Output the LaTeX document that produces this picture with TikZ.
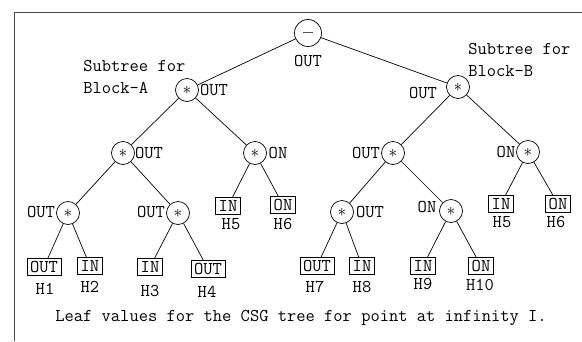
\documentclass[tikz,border=0pt]{standalone}
\begin{document}
\begin{tikzpicture}[x=1pt,y=-1pt,line width=0.7pt,
  font=\ttfamily\fontsize{18}{22}\selectfont,
  op/.style={draw,circle,inner sep=0pt,minimum size=23pt},
  leaf/.style={draw,rectangle,inner xsep=3pt,inner ysep=1pt,minimum height=17pt},
  val/.style={inner sep=0pt}]
  \useasboundingbox (0,0) rectangle (582,341);
  \draw[black!70] (582,12) -- (14,12) -- (14,341);

  \node (R) [op,minimum size=27pt] at (308,33) {$-$};
  \node (Rv) [val] at (308,61) {OUT};

  \node (A) [op] at (187,90) {$\ast$};
  \node (Av) [val] at (214,90) {OUT};
  \node (Anote) [val,align=left,anchor=west] at (83,77) {Subtree for\\Block-A};
  \node (B) [op] at (458,87) {$\ast$};
  \node (Bv) [val] at (423,93) {OUT};
  \node (Bnote) [val,align=left,anchor=west] at (468,60) {Subtree for\\Block-B};

  \node (A1) [op] at (123,153) {$\ast$};
  \node (A1v) [val] at (149,153) {OUT};
  \node (A2) [op] at (255,153) {$\ast$};
  \node (A2v) [val] at (278,153) {ON};
  \node (B1) [op] at (393,153) {$\ast$};
  \node (B1v) [val] at (366,153) {OUT};
  \node (B2) [op] at (528,152) {$\ast$};
  \node (B2v) [val] at (506,152) {ON};

  \node (A1a) [op] at (68,213) {$\ast$};
  \node (A1av) [val] at (41,212) {OUT};
  \node (A1b) [op] at (178,213) {$\ast$};
  \node (A1bv) [val] at (151,212) {OUT};
  \node (B1a) [op] at (342,212) {$\ast$};
  \node (B1av) [val] at (370,212) {OUT};
  \node (B1b) [op] at (451,211) {$\ast$};
  \node (B1bv) [val] at (427,207) {ON};

  \node (H1) [leaf] at (44,267) {OUT};
  \node (H1t) [val] at (45,289) {H1};
  \node (H2) [leaf] at (90,266) {IN};
  \node (H2t) [val] at (90,287) {H2};
  \node (H3) [leaf] at (150,267) {IN};
  \node (H3t) [val] at (150,291) {H3};
  \node (H4) [leaf] at (208,269) {OUT};
  \node (H4t) [val] at (207,292) {H4};
  \node (H5) [leaf] at (228,206) {IN};
  \node (H5t) [val] at (231,224) {H5};
  \node (H6) [leaf] at (283,205) {ON};
  \node (H6t) [val] at (283,224) {H6};
  \node (H7) [leaf] at (317,266) {OUT};
  \node (H7t) [val] at (315,287) {H7};
  \node (H8) [leaf] at (362,266) {IN};
  \node (H8t) [val] at (362,287) {H8};
  \node (H9) [leaf] at (423,266) {IN};
  \node (H9t) [val] at (423,284) {H9};
  \node (H10) [leaf] at (481,266) {ON};
  \node (H10t) [val] at (480,285) {H10};
  \node (H5b) [leaf] at (501,204) {IN};
  \node (H5bt) [val] at (502,222) {H5};
  \node (H6b) [leaf] at (558,204) {ON};
  \node (H6bt) [val] at (556,222) {H6};

  \draw (R) -- (A) (R) -- (B);
  \draw (A) -- (A1) (A) -- (A2) (B) -- (B1) (B) -- (B2);
  \draw (A1) -- (A1a) (A1) -- (A1b) (A2) -- (H5) (A2) -- (H6);
  \draw (B1) -- (B1a) (B1) -- (B1b) (B2) -- (H5b) (B2) -- (H6b);
  \draw (A1a) -- (H1) (A1a) -- (H2) (A1b) -- (H3) (A1b) -- (H4);
  \draw (B1a) -- (H7) (B1a) -- (H8) (B1b) -- (H9) (B1b) -- (H10);

  \node (cap) [val] at (301,318) {Leaf values for the CSG tree for point at infinity I.};
\end{tikzpicture}
\end{document}
